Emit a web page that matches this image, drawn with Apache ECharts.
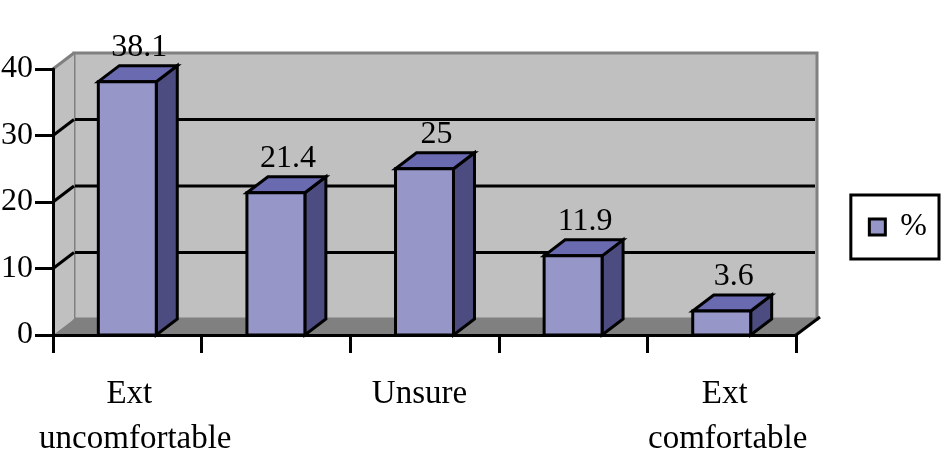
<!DOCTYPE html>
<html><head><meta charset="utf-8">
<style>html,body{margin:0;padding:0;background:#fff}#c{width:941px;height:459px}</style>
<script src="https://cdn.jsdelivr.net/npm/echarts@6/dist/echarts.min.js"></script>
</head><body><div id="c"></div>
<script>
const categories = ["Ext\nuncomfortable", "", "Unsure", "", "Ext\ncomfortable"];
const values = [38.1, 21.4, 25, 11.9, 3.6];
const gridTicks = [10, 20, 30];
const seriesName = "%";

const DX = 21, DY = -16;
const FONT = '"Liberation Serif", serif';
const FRONT = '#9696c8', TOP = '#6a6ab0', SIDE = '#4c4c80';
const chart = echarts.init(document.getElementById('c'), null, {renderer:'canvas'});

function renderWall(params, api) {
  const r = params.coordSys;
  const L = r.x, R = r.x + r.width, T = r.y, B = r.y + r.height;
  const poly = (pts, fill, stroke, lw) => ({type:'polygon', shape:{points:pts},
    style:{fill:fill, stroke:stroke||null, lineWidth:lw||0}});
  const line = (x1,y1,x2,y2,c,w) => ({type:'line', shape:{x1,y1,x2,y2},
    style:{stroke:c, lineWidth:w, fill:null}});
  const kids = [
    poly([[L+DX,T+DY],[R+DX,T+DY],[R+DX,B+DY],[L+DX,B+DY]], '#c0c0c0', '#808080', 3),
    poly([[L,T],[L+DX,T+DY],[L+DX,B+DY],[L,B]], '#c0c0c0'),
    line(L,T,L+DX,T+DY,'#808080',3),
    poly([[L,B],[L+DX,B+DY],[R+DX,B+DY],[R,B]], '#808080'),
    line(R,B,R+DX+3,B+DY-2,'#000',3)
  ];
  gridTicks.forEach(v => {
    const y = api.coord([0, v])[1];
    kids.push(line(L,y,L+DX,y+DY,'#000',3));
    kids.push(line(L+DX+1,y+DY,R+DX-2,y+DY,'#000',3));
  });
  return {type:'group', children:kids};
}

function renderBar(params, api) {
  const base = api.coord([api.value(0), 0]);
  const top = api.coord([api.value(0), api.value(1)]);
  const w = api.size([1, 0])[0] * 0.39;
  const l = base[0] - w/2, r = base[0] + w/2, t = top[1], b = base[1];
  const st = f => ({fill:f, stroke:'#000', lineWidth:3, lineJoin:'miter'});
  return {type:'group', children:[
    {type:'polygon', shape:{points:[[r,t],[r+DX,t+DY],[r+DX,b+DY],[r,b]]}, style:st(SIDE)},
    {type:'polygon', shape:{points:[[l,t],[l+DX,t+DY],[r+DX,t+DY],[r,t]]}, style:st(TOP)},
    {type:'rect', shape:{x:l,y:t,width:w,height:b-t}, style:st(FRONT)},
    {type:'text', style:{text:String(api.value(1)), x:base[0]+12, y:t-34, align:'center',
      verticalAlign:'middle', fontSize:32, fontFamily:FONT, fill:'#000'}}
  ]};
}

const labelFont = {fontSize:33, fontFamily:FONT, color:'#000', lineHeight:45};
chart.setOption({
  animation:false,
  backgroundColor:'#fff',
  grid:{left:53, right:145, top:69, bottom:124, outerBoundsMode:'none'},
  legend:{
    data:[seriesName], right:2, top:195, orient:'vertical',
    borderColor:'#000', borderWidth:3, backgroundColor:'#fff',
    padding:[16,12,16,17], icon:'rect', itemWidth:16, itemHeight:16, itemGap:0,
    itemStyle:{color:FRONT, borderColor:'#000', borderWidth:3},
    textStyle:{fontSize:32, fontFamily:FONT, color:'#000', padding:[0,0,0,10]}
  },
  xAxis:{
    type:'category', data:categories, z:3,
    axisLine:{lineStyle:{color:'#000', width:3}},
    axisTick:{show:true, alignWithLabel:false, length:18, lineStyle:{color:'#000', width:3}},
    axisLabel:Object.assign({interval:0, margin:37, verticalAlign:'top',
      formatter:function(v, i){
        if (!v) return '';
        const parts = v.split('\n');
        if (parts.length === 1) return '{c|' + parts[0] + '}';
        return (i === 0 ? '{a|' : '{d|') + parts[0] + '}\n' + (i === 0 ? '{b|' : '{e|') + parts[1] + '}';
      },
      rich:{
        a:Object.assign({padding:[0,0,0,4]}, labelFont),
        b:Object.assign({padding:[0,0,0,16]}, labelFont),
        c:Object.assign({padding:[0,10,0,0]}, labelFont),
        d:Object.assign({padding:[0,0,0,6]}, labelFont),
        e:Object.assign({padding:[0,0,0,12]}, labelFont)
      }}, labelFont),
    splitLine:{show:false}
  },
  yAxis:{
    type:'value', min:0, max:40, interval:10, z:3,
    axisLine:{show:true, lineStyle:{color:'#000', width:3}},
    axisTick:{show:true, length:18, lineStyle:{color:'#000', width:3}},
    axisLabel:{margin:20, fontSize:32, fontFamily:FONT, color:'#000'},
    splitLine:{show:false}
  },
  series:[
    {type:'custom', name:'wall', coordinateSystem:'cartesian2d', z:1, silent:true, clip:false,
     data:[[0,0]], encode:{x:0,y:1}, renderItem:renderWall},
    {type:'custom', name:seriesName, coordinateSystem:'cartesian2d', z:2, clip:false,
     itemStyle:{color:FRONT},
     data:values.map((v,i)=>[i,v]), encode:{x:0,y:1}, renderItem:renderBar}
  ]
});
</script></body></html>
